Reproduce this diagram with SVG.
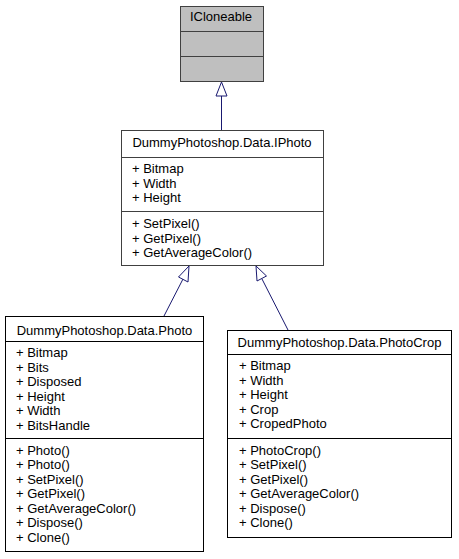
<svg xmlns="http://www.w3.org/2000/svg" width="459" height="559" viewBox="0 0 459 559">
<style>
text{font-family:"Liberation Sans",Arial,sans-serif;font-size:13px;fill:#000}
.t{text-anchor:middle}
.box{fill:#fff;stroke:#000;stroke-width:1}
.grey{fill:#fff;stroke:#404040;stroke-width:1}
.cur{fill:#bfbfbf;stroke:#404040;stroke-width:1}
.edge{fill:none;stroke:#191970;stroke-width:1}
.head{fill:#fff;stroke:#191970;stroke-width:1}
</style>
<rect width="459" height="559" fill="#fff"/>
<g id="connectors">
<line class="edge" x1="221.5" y1="96" x2="221.5" y2="130"/>
<polygon class="head" points="221.5,82 216,96 227,96"/>
<line class="edge" x1="164" y1="316" x2="183" y2="279"/>
<polygon class="head" points="189,266 178.5,277 188,282"/>
<line class="edge" x1="288" y1="330" x2="262" y2="279"/>
<polygon class="head" points="256,266 257,281 266.5,276"/>
</g>
<g id="ICloneable">
<rect class="cur" x="180.5" y="6.5" width="83" height="75"/>
<line class="cur" x1="180.5" y1="31.5" x2="263.5" y2="31.5"/>
<line class="cur" x1="180.5" y1="56.5" x2="263.5" y2="56.5"/>
<text class="t" x="221" y="21">ICloneable</text>
</g>
<g id="IPhoto">
<rect class="grey" x="121.5" y="130.5" width="202" height="135"/>
<line class="grey" x1="121.5" y1="157.5" x2="323.5" y2="157.5"/>
<line class="grey" x1="121.5" y1="211.5" x2="323.5" y2="211.5"/>
<text class="t" x="222" y="147">DummyPhotoshop.Data.IPhoto</text>
<text x="132" y="173">+ Bitmap</text>
<text x="132" y="187.5">+ Width</text>
<text x="132" y="202">+ Height</text>
<text x="132" y="228">+ SetPixel()</text>
<text x="132" y="242.5">+ GetPixel()</text>
<text x="132" y="257">+ GetAverageColor()</text>
</g>
<g id="Photo">
<rect class="box" x="5.5" y="316.5" width="198" height="235"/>
<line class="box" x1="5.5" y1="341.5" x2="203.5" y2="341.5"/>
<line class="box" x1="5.5" y1="438.5" x2="203.5" y2="438.5"/>
<text class="t" x="104.5" y="334.5">DummyPhotoshop.Data.Photo</text>
<text x="16" y="357">+ Bitmap</text>
<text x="16" y="371.5">+ Bits</text>
<text x="16" y="386">+ Disposed</text>
<text x="16" y="400.5">+ Height</text>
<text x="16" y="415">+ Width</text>
<text x="16" y="429.5">+ BitsHandle</text>
<text x="16" y="454.5">+ Photo()</text>
<text x="16" y="469">+ Photo()</text>
<text x="16" y="483.5">+ SetPixel()</text>
<text x="16" y="498">+ GetPixel()</text>
<text x="16" y="512.5">+ GetAverageColor()</text>
<text x="16" y="527">+ Dispose()</text>
<text x="16" y="541.5">+ Clone()</text>
</g>
<g id="PhotoCrop">
<rect class="box" x="227.5" y="330.5" width="224" height="207"/>
<line class="box" x1="227.5" y1="354.5" x2="451.5" y2="354.5"/>
<line class="box" x1="227.5" y1="438.5" x2="451.5" y2="438.5"/>
<text class="t" x="339.5" y="347">DummyPhotoshop.Data.PhotoCrop</text>
<text x="239" y="370">+ Bitmap</text>
<text x="239" y="384.5">+ Width</text>
<text x="239" y="399">+ Height</text>
<text x="239" y="413.5">+ Crop</text>
<text x="239" y="428">+ CropedPhoto</text>
<text x="239" y="454.5">+ PhotoCrop()</text>
<text x="239" y="469">+ SetPixel()</text>
<text x="239" y="483.5">+ GetPixel()</text>
<text x="239" y="498">+ GetAverageColor()</text>
<text x="239" y="512.5">+ Dispose()</text>
<text x="239" y="527">+ Clone()</text>
</g>
</svg>
